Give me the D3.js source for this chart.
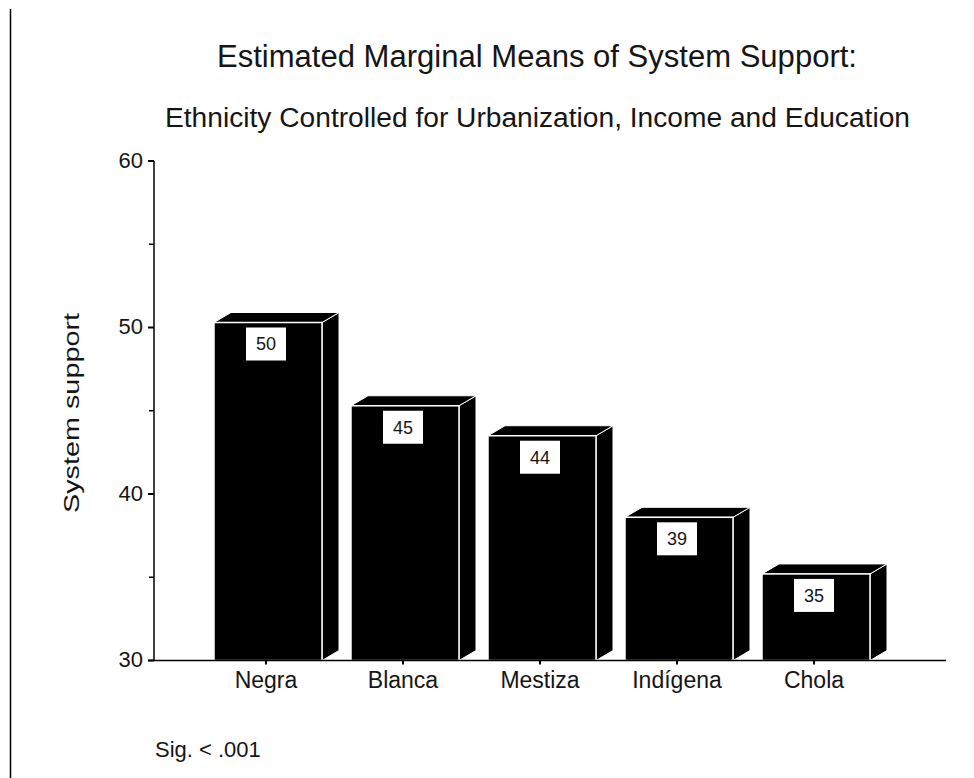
<!DOCTYPE html>
<html>
<head>
<meta charset="utf-8">
<script src="https://cdn.jsdelivr.net/npm/d3@7/dist/d3.min.js"></script>
<style>
  html, body { margin: 0; padding: 0; background: #fff; }
  svg { display: block; }
  text { font-family: "Liberation Sans", Arial, sans-serif; fill: #151515; }
</style>
</head>
<body>
<svg id="chart" width="974" height="778"></svg>
<script>
// ---- data ----
const categories = ["Negra", "Blanca", "Mestiza", "Indígena", "Chola"];
const values = [50.3, 45.3, 43.5, 38.6, 35.2];
const valueLabels = ["50", "45", "44", "39", "35"];
const yMajorTicks = [30, 40, 50, 60];
const yMinorTicks = [35, 45, 55];
const titleText = "Estimated Marginal Means of System Support:";
const subtitleText = "Ethnicity Controlled for Urbanization, Income and Education";
const yAxisTitle = "System support";
const noteText = "Sig. < .001";

// ---- layout ----
const svg = d3.select("#chart");
const axisX = 154, baseY = 660.5;
const y = d3.scaleLinear().domain([30, 60]).range([baseY, 161]);
const x = d3.scaleBand().domain(categories).range([214, 870]).paddingInner(29 / 137).paddingOuter(0);
const bw = x.bandwidth();
const depthX = 17, depthY = 10;
const center = c => x(c) + bw / 2 - 2;

// left frame line
svg.append("line").attr("x1", 10.5).attr("x2", 10.5).attr("y1", 9).attr("y2", 778)
  .attr("stroke", "#000").attr("stroke-width", 1.5);

// titles
svg.append("text").attr("x", 537).attr("y", 67).attr("text-anchor", "middle")
  .style("font-size", "31px").attr("textLength", 640).attr("lengthAdjust", "spacingAndGlyphs")
  .text(titleText);
svg.append("text").attr("x", 537.5).attr("y", 127).attr("text-anchor", "middle")
  .style("font-size", "27px").attr("textLength", 745).attr("lengthAdjust", "spacingAndGlyphs")
  .text(subtitleText);

// y axis title
svg.append("text").attr("transform", "translate(79,413) rotate(-90)")
  .attr("text-anchor", "middle").style("font-size", "22px")
  .attr("textLength", 200).attr("lengthAdjust", "spacingAndGlyphs")
  .text(yAxisTitle);

// bars (3D)
const bars = svg.append("g").selectAll("g").data(categories).join("g");
bars.each(function (c, i) {
  const g = d3.select(this);
  const x0 = x(c), x1 = x(c) + bw, yt = y(values[i]);
  // side face
  g.append("path")
    .attr("d", `M${x1},${yt} L${x1 + depthX},${yt - depthY} L${x1 + depthX},${baseY - depthY} L${x1},${baseY} Z`)
    .attr("fill", "#000").attr("stroke", "#fff").attr("stroke-width", 1);
  // top face
  g.append("path")
    .attr("d", `M${x0},${yt} L${x0 + depthX},${yt - depthY} L${x1 + depthX},${yt - depthY} L${x1},${yt} Z`)
    .attr("fill", "#000").attr("stroke", "#fff").attr("stroke-width", 1);
  // front face
  g.append("rect").attr("x", x0).attr("y", yt).attr("width", bw).attr("height", baseY - yt)
    .attr("fill", "#000").attr("stroke", "#fff").attr("stroke-width", 1.5);
  // value label box
  const cx = center(c);
  g.append("rect").attr("x", cx - 20).attr("y", yt + 5).attr("width", 40).attr("height", 33)
    .attr("fill", "#fff");
  g.append("text").attr("x", cx).attr("y", yt + 21.5).attr("dy", "0.35em")
    .attr("text-anchor", "middle").style("font-size", "18px").text(valueLabels[i]);
});

// y axis
svg.append("line").attr("x1", axisX).attr("x2", axisX).attr("y1", y(60)).attr("y2", baseY)
  .attr("stroke", "#000").attr("stroke-width", 1.5);
svg.append("g").selectAll("line.maj").data(yMajorTicks).join("line")
  .attr("x1", axisX - 6).attr("x2", axisX).attr("y1", d => y(d)).attr("y2", d => y(d))
  .attr("stroke", "#000").attr("stroke-width", 2);
svg.append("g").selectAll("line.min").data(yMinorTicks).join("line")
  .attr("x1", axisX - 5).attr("x2", axisX).attr("y1", d => y(d)).attr("y2", d => y(d))
  .attr("stroke", "#000").attr("stroke-width", 1.5);
svg.append("g").selectAll("text").data(yMajorTicks).join("text")
  .attr("x", 143).attr("y", d => y(d) - 1).attr("dy", "0.35em").attr("text-anchor", "end")
  .style("font-size", "22px").text(d => d);

// x axis baseline
svg.append("line").attr("x1", axisX - 6).attr("x2", 946).attr("y1", baseY).attr("y2", baseY)
  .attr("stroke", "#000").attr("stroke-width", 1.5);
svg.append("g").selectAll("line").data(categories).join("line")
  .attr("x1", d => center(d)).attr("x2", d => center(d)).attr("y1", baseY).attr("y2", baseY + 4)
  .attr("stroke", "#000").attr("stroke-width", 2);
svg.append("g").selectAll("text").data(categories).join("text")
  .attr("x", d => center(d)).attr("y", 688).attr("text-anchor", "middle")
  .style("font-size", "23px").text(d => d);

// note
svg.append("text").attr("x", 155).attr("y", 757).style("font-size", "22px").text(noteText);
</script>
</body>
</html>
